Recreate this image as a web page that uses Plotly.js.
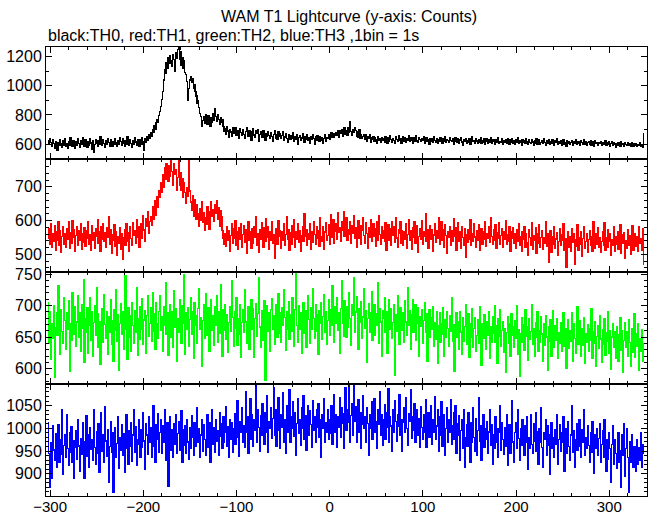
<!DOCTYPE html>
<html><head><meta charset="utf-8">
<script src="https://cdn.plot.ly/plotly-3.0.1.min.js"></script>
<style>html,body{margin:0;padding:0;background:#fff}#chart{width:652px;height:515px}
.scatterlayer path.js-line{shape-rendering:crispEdges}</style>
</head><body><div id="chart"></div><script>
// Time of first 1 s bin (seconds)
const binStart = -302;

// TH0 (black) counts per 1 s bin
const th0 = [
625,598,640,612,585,630,604,571,618,596,
560,612,590,634,601,578,622,595,640,587,
603,575,619,592,648,611,583,627,600,570,
615,589,636,604,581,625,598,644,610,586,
630,602,577,619,593,640,608,563,621,547,
598,632,606,584,627,601,653,615,589,630,
605,579,622,598,641,613,588,632,607,585,
619,596,638,610,582,626,601,644,617,592,
635,608,583,627,600,649,614,590,632,605,
581,624,598,642,616,590,633,607,585,628,
602,645,619,556,636,612,651,628,664,640,
678,655,701,682,726,704,748,771,752,798,
822,858,905,960,1040,1110,1085,1160,1120,1190,
1150,1205,1170,1132,1215,1180,1096,1225,1190,1250,
1265,1180,1230,1140,1195,1120,1170,1090,1075,1030,
900,980,1040,1064,1020,1050,985,1005,960,930,
880,900,850,810,790,720,760,790,745,805,
770,735,795,760,720,780,748,810,765,845,
790,755,800,770,735,785,752,768,720,685,
704,668,721,690,647,698,683,652,715,676,
689,711,660,694,672,643,705,681,658,699,
667,640,688,712,675,651,694,668,627,683,
706,662,645,690,671,698,619,664,687,650,
676,693,648,629,672,654,688,661,640,679,
655,617,668,690,643,662,631,684,652,670,
638,661,685,624,650,673,641,612,666,647,
630,659,642,676,618,651,635,664,600,645,
657,626,648,671,639,612,653,634,662,628,
644,609,655,631,668,640,597,650,626,661,
635,618,652,627,645,606,638,662,621,648,
640,662,631,655,676,648,669,650,658,681,
662,695,644,690,673,700,656,688,712,668,
695,662,715,679,754,688,660,702,680,711,
692,656,685,649,698,642,668,640,652,666,
634,663,618,651,637,666,610,645,632,655,
618,642,631,608,650,626,639,611,647,624,
636,613,652,629,605,644,621,658,630,615,
641,625,603,649,632,617,656,628,640,609,
634,651,622,645,610,638,627,657,618,642,
626,605,648,633,619,660,627,612,644,630,
617,639,624,651,606,632,645,618,629,598,
641,622,636,611,654,627,615,639,603,630,
619,645,628,608,637,621,650,614,633,625,
610,643,626,617,639,602,631,647,620,612,
635,609,628,646,615,590,632,619,641,607,
626,614,639,600,630,653,618,625,604,637,
621,608,634,616,642,603,627,611,636,597,
622,640,609,631,615,644,606,628,618,599,
633,612,625,648,604,620,611,637,596,626,
615,632,605,641,619,600,628,613,638,609,
624,597,630,612,645,607,621,616,594,633,
611,627,603,639,618,596,629,614,605,631,
616,592,625,608,636,601,619,628,597,613,
624,606,640,611,590,622,609,633,600,617,
603,628,612,595,626,610,637,599,618,607,
621,594,615,630,602,612,588,624,608,619,
598,613,627,591,618,605,632,596,611,620,
606,589,621,611,597,628,601,615,593,612,
618,600,625,592,609,616,586,621,604,613,
595,610,603,620,589,614,598,608,622,590,
611,599,618,587,606,615,595,612,601,580,
607,593,614,600,588,617,596,605,584,610,
598,589,611,594,604,582,612,597,588,603,
591,607,585,600,593,611,586,598,579,670
];

// TH1 (red) counts per 1 s bin
const th1 = [
548,575,530,592,521,560,538,585,512,567,
540,598,526,571,505,553,582,531,560,522,
577,543,596,518,565,532,601,549,574,508,
556,583,527,569,542,591,516,562,535,578,
524,571,548,597,530,559,512,586,540,565,
519,575,552,603,534,568,508,581,545,592,
537,564,521,578,550,612,529,573,503,558,
541,589,523,566,498,552,534,580,515,561,
485,548,572,526,590,539,563,510,581,547,
528,595,556,571,533,604,549,582,520,568,
590,548,615,572,538,606,583,627,561,598,
612,585,640,603,628,659,615,672,640,690,
668,712,685,735,700,758,722,770,748,715,
762,730,781,745,705,768,736,752,690,728,
780,705,742,690,725,668,712,684,650,698,
672,778,688,655,630,675,612,662,641,605,
648,620,583,636,602,655,594,625,572,610,
588,640,603,575,628,655,612,632,598,646,
621,660,605,638,583,629,612,570,548,530,
562,525,583,541,570,508,556,592,532,575,
547,601,528,566,514,579,543,590,522,558,
585,536,572,503,554,598,540,567,519,576,
533,581,549,612,527,562,506,574,545,593,
560,521,578,539,606,551,583,515,568,542,
597,534,559,487,548,576,529,601,553,570,
518,566,540,592,527,558,611,545,574,512,
563,530,585,549,604,521,568,543,590,535,
571,509,556,582,538,621,552,574,526,560,
543,590,515,567,535,598,559,529,583,548,
570,524,609,553,538,581,516,566,595,541,
556,588,531,617,549,575,602,534,569,590,
545,624,566,580,537,598,571,626,552,583,
608,541,574,559,597,532,586,563,615,548,
579,522,563,601,547,585,529,571,610,556,
532,594,561,518,580,549,604,537,565,591,
552,576,523,598,541,614,559,530,583,547,
569,538,593,511,562,587,540,575,526,598,
557,581,535,609,548,520,573,562,596,534,
571,527,566,543,590,518,558,603,541,569,
515,578,550,596,532,561,584,507,553,575,
543,600,529,567,552,621,538,574,519,562,
586,545,572,508,557,591,536,569,548,610,
530,563,597,541,574,522,588,555,503,567,
549,583,526,571,539,606,552,578,513,560,
594,537,566,518,581,549,527,575,490,558,
536,572,545,603,527,561,538,590,551,520,
569,542,588,511,559,577,531,566,545,598,
523,562,548,581,536,610,553,529,574,540,
587,519,563,546,594,531,556,575,522,568,
544,601,529,558,537,583,510,566,548,579,
532,560,518,574,539,591,526,553,509,567,
545,583,521,560,536,497,574,550,528,593,
516,556,541,578,503,562,532,587,520,549,
571,515,548,533,596,524,560,476,542,569,
507,553,530,581,519,545,564,498,537,575,
526,558,541,590,512,547,462,532,566,521,
553,508,575,536,561,470,544,524,588,513,
550,531,567,495,546,582,517,539,560,505,
543,571,528,553,509,597,535,518,562,530,
578,521,548,505,539,566,526,594,512,549,
520,574,538,561,497,543,527,583,509,552,
531,567,515,546,588,502,557,534,565,488,
542,517,573,528,556,499,540,585,513,548,
560,524,551,509,582,533,546,512,575,470
];

// TH2 (green) counts per 1 s bin
const th2 = [
705,640,690,615,672,648,700,586,665,688,
652,731,668,623,694,659,640,712,676,631,
689,662,708,596,671,645,720,683,655,699,
636,674,715,650,688,628,702,664,741,610,
680,657,696,625,668,712,645,690,619,673,
700,652,728,687,633,675,606,664,695,641,
718,670,648,691,622,683,657,709,639,676,
612,694,660,725,644,686,598,671,703,655,
690,631,676,748,662,615,697,650,684,627,
705,668,640,692,657,729,621,680,646,698,
663,711,638,677,692,625,684,716,651,672,
696,644,720,659,687,630,705,672,648,691,
715,660,683,627,699,668,736,654,688,621,
677,702,649,690,633,724,666,695,612,680,
658,710,687,640,700,671,749,623,689,662,
697,635,678,712,655,690,616,704,669,684,
640,695,727,663,681,604,676,702,648,719,
673,652,696,627,688,710,661,684,637,699,
668,715,642,690,656,733,679,620,694,661,
702,647,685,626,673,698,659,740,681,635,
690,664,712,637,680,655,701,618,673,694,
657,726,674,640,688,698,630,683,710,662,
695,618,679,703,651,687,744,666,634,692,
672,645,708,581,676,700,659,688,627,694,
711,663,684,638,702,675,650,719,656,689,
642,697,668,725,681,629,690,663,706,647,
685,659,713,672,636,694,750,668,641,700,
662,688,625,679,704,656,692,633,676,715,
678,640,697,663,727,680,648,701,659,686,
623,692,671,705,646,683,718,657,690,638,
676,709,652,694,668,731,686,642,699,671,
713,660,688,625,695,740,672,651,707,683,
649,698,666,720,679,637,702,685,744,658,
690,714,667,631,695,673,706,648,682,727,
664,692,610,680,703,657,689,722,645,676,
701,653,687,668,736,640,695,674,619,692,
680,712,657,690,625,684,709,663,695,648,
673,702,590,686,659,715,671,639,697,680,
661,688,642,707,674,653,729,668,692,630,
686,710,657,679,702,645,671,696,620,683,
667,694,640,676,704,658,687,612,671,693,
650,681,662,699,635,673,647,690,608,668,
688,641,672,655,697,620,678,650,691,664,
636,684,659,712,643,670,595,662,688,649,
675,631,690,658,623,681,644,667,702,639,
660,687,618,672,649,695,633,664,681,627,
653,678,640,699,662,605,671,648,686,657,
631,675,652,690,617,667,641,683,656,700,
642,668,609,679,651,693,635,660,675,626,
664,594,657,682,640,671,619,687,653,666,
633,676,648,700,622,662,587,655,681,641,
670,629,694,651,667,613,680,646,659,702,
638,664,620,673,649,690,628,661,642,682,
655,611,671,637,684,650,598,666,643,678,
619,659,692,634,668,645,679,616,657,640,
673,627,654,688,636,663,601,650,677,632,
660,644,689,612,671,648,625,666,698,639,
653,676,620,664,637,681,609,656,642,670,
628,663,645,695,617,659,640,674,603,651,
668,632,684,647,610,662,638,679,621,657,
643,690,625,661,599,650,672,634,658,616,
667,640,612,654,681,629,660,594,645,673,
633,658,620,677,641,604,664,626,650,687,
618,655,636,671,598,648,627,662,612,640
];

// TH3 (blue) counts per 1 s bin
const th3 = [
1012,945,870,968,890,1005,952,930,988,915,
960,1008,925,975,942,1040,898,962,985,936,
1030,955,918,990,947,1003,926,972,890,958,
995,932,1020,961,905,978,943,1012,950,889,
970,1028,938,985,915,1001,953,975,930,1042,
958,921,992,945,1010,903,968,1035,950,985,
925,1047,972,938,996,880,960,1015,947,990,
860,973,1001,935,967,1025,912,980,952,1008,
941,988,902,970,1030,955,920,994,960,1012,
928,985,1040,948,1003,918,976,1020,965,937,
998,958,1035,972,910,1010,985,942,1025,968,
1002,936,987,1050,960,925,1008,975,1032,948,
990,1018,944,1005,968,1041,930,985,1012,872,
976,1025,952,996,937,1010,965,1030,944,988,
1015,951,980,1038,925,998,962,1005,945,1020,
970,932,1002,955,1027,980,940,1013,960,992,
1045,968,1000,935,985,1019,950,1008,975,940,
996,1030,958,1012,925,988,1040,965,1002,948,
1018,972,995,940,1035,982,1010,955,1025,968,
990,1048,960,1003,935,1020,975,1012,948,1000,
1032,965,1008,1060,980,938,1015,992,1045,970,
1005,958,1080,990,1025,945,1012,1065,975,1030,
960,1018,995,1097,970,1040,1002,950,1028,985,
1055,1010,965,1035,990,1072,948,1015,1000,1045,
978,1022,1090,985,1040,960,1012,1068,995,955,
1030,1003,1078,970,1020,945,1050,990,1012,1085,
968,1025,1000,1058,982,1035,940,1010,1065,988,
1020,962,1045,1000,1072,975,1028,952,1015,1050,
985,1038,1008,958,1060,995,1025,970,1042,1003,
1055,980,1018,935,1030,1000,1065,968,1012,990,
1040,975,1020,988,1050,965,1010,1075,992,1030,
958,1025,1002,1068,980,1045,1010,955,1032,1090,
995,1040,1012,1097,968,1028,1055,985,1097,1015,
1048,970,1020,1062,992,1035,955,1008,1072,1000,
1025,968,1045,1010,940,1030,1000,1058,975,1022,
1065,990,1015,955,1042,1008,1080,985,1030,962,
1018,1052,975,1035,1002,1088,968,1025,1005,950,
1040,992,1060,1015,972,1030,1005,1075,985,1020,
950,1012,1045,990,1068,1000,962,1032,1015,1085,
978,1025,995,1055,968,1010,1040,985,1022,958,
1048,1002,975,1030,990,1062,958,1015,1035,980,
1008,1050,965,1020,992,1070,975,1005,1040,950,
1025,985,1058,960,1012,1030,940,1000,1045,970,
1018,990,1062,965,1005,1035,975,1050,945,1010,
985,1028,930,995,1020,955,1040,915,980,1008,
960,1035,990,925,1012,968,1045,980,950,1022,
940,995,1068,972,1005,930,985,1030,958,1000,
975,1015,945,992,1040,962,1008,920,985,955,
1025,968,1000,935,990,1050,952,1012,975,942,
1002,960,1030,918,985,1008,945,995,1060,970,
925,990,1012,955,1040,978,930,1000,962,1018,
985,940,1005,968,1025,910,980,955,1030,965,
945,1010,972,1035,950,992,920,1000,968,1045,
958,915,990,975,1020,940,1005,962,898,985,
1012,955,980,935,998,965,1030,920,975,1008,
950,990,968,1025,905,972,1000,945,1015,960,
930,985,1050,948,995,915,975,1010,952,985,
1020,960,935,998,970,1042,940,980,955,1005,
962,925,990,948,1015,970,900,985,955,1000,
940,978,1010,925,965,995,935,1018,950,905,
975,932,990,955,880,965,1005,920,975,945,
912,960,990,925,950,870,985,940,1010,895,
955,1000,935,860,970,925,985,950,915,960,
940,905,975,920,958,930,990,915,965,945
];

const titleText = 'WAM T1 Lightcurve (y-axis: Counts)';
const subtitleText = 'black:TH0, red:TH1, green:TH2, blue:TH3 ,1bin = 1s';

const time = th0.map((_, i) => binStart + i);

const FONT = {family: '"Liberation Sans", Arial, Helvetica, sans-serif', size: 16, color: '#000'};
const XFONT = {family: '"Liberation Sans", Arial, Helvetica, sans-serif', size: 15, color: '#000'};

function trace(y, color, xa, ya) {
  return {x: time, y: y, type: 'scatter', mode: 'lines', xaxis: xa, yaxis: ya,
          line: {color: color, width: 1.3, shape: 'hvh'}, hoverinfo: 'skip'};
}

const data = [
  trace(th3, '#0000ff', 'x', 'y'),
  trace(th2, '#00ff00', 'x2', 'y2'),
  trace(th1, '#ff0000', 'x3', 'y3'),
  trace(th0, '#000000', 'x4', 'y4')
];

function xAxis(anchor, labels) {
  return {anchor: anchor, range: [-304.4, 340.5], showline: true, linecolor: '#000', linewidth: 1,
    mirror: 'allticks', ticks: 'inside', ticklen: 6, tickcolor: '#000', tickwidth: 1,
    tick0: 0, dtick: 100, showgrid: false, zeroline: false, showticklabels: labels,
    tickfont: XFONT, ticklabelstandoff: -3, fixedrange: true,
    minor: {tick0: 0, dtick: 20, ticks: 'inside', ticklen: 3, tickcolor: '#000', showgrid: false}};
}
function yAxis(anchor, domain, range, dtick, mdtick) {
  return {anchor: anchor, domain: domain, range: range, showline: true, linecolor: '#000', linewidth: 1,
    mirror: 'allticks', ticks: 'inside', ticklen: 6, tickcolor: '#000', tickwidth: 1,
    tick0: 0, dtick: dtick, showgrid: false, zeroline: false, tickfont: FONT, fixedrange: true,
    minor: {tick0: 0, dtick: mdtick, ticks: 'inside', ticklen: 3, tickcolor: '#000', showgrid: false}};
}

const layout = {
  width: 652, height: 515, autosize: false,
  margin: {l: 46, r: 5, t: 47, b: 19, pad: 0},
  paper_bgcolor: '#fff', plot_bgcolor: '#fff', showlegend: false, font: FONT,
  xaxis: xAxis('y', true),
  xaxis2: xAxis('y2', false),
  xaxis3: xAxis('y3', false),
  xaxis4: xAxis('y4', false),
  yaxis: yAxis('x', [0, 0.25], [851, 1098], 50, 10),
  yaxis2: yAxis('x2', [0.25, 0.5], [576, 754], 50, 10),
  yaxis3: yAxis('x3', [0.5, 0.75], [449, 782], 100, 20),
  yaxis4: yAxis('x4', [0.75, 1], [497, 1265], 200, 100),
  annotations: [
    {text: titleText, xref: 'paper', yref: 'paper', x: 0.504, y: 1.067, xanchor: 'center', yanchor: 'middle',
     showarrow: false, font: FONT},
    {text: subtitleText, xref: 'paper', yref: 'paper', x: 0.0, y: 1.025, xanchor: 'left', yanchor: 'middle',
     showarrow: false, font: FONT}
  ]
};

Plotly.newPlot('chart', data, layout, {staticPlot: true, displayModeBar: false});
</script></body></html>
